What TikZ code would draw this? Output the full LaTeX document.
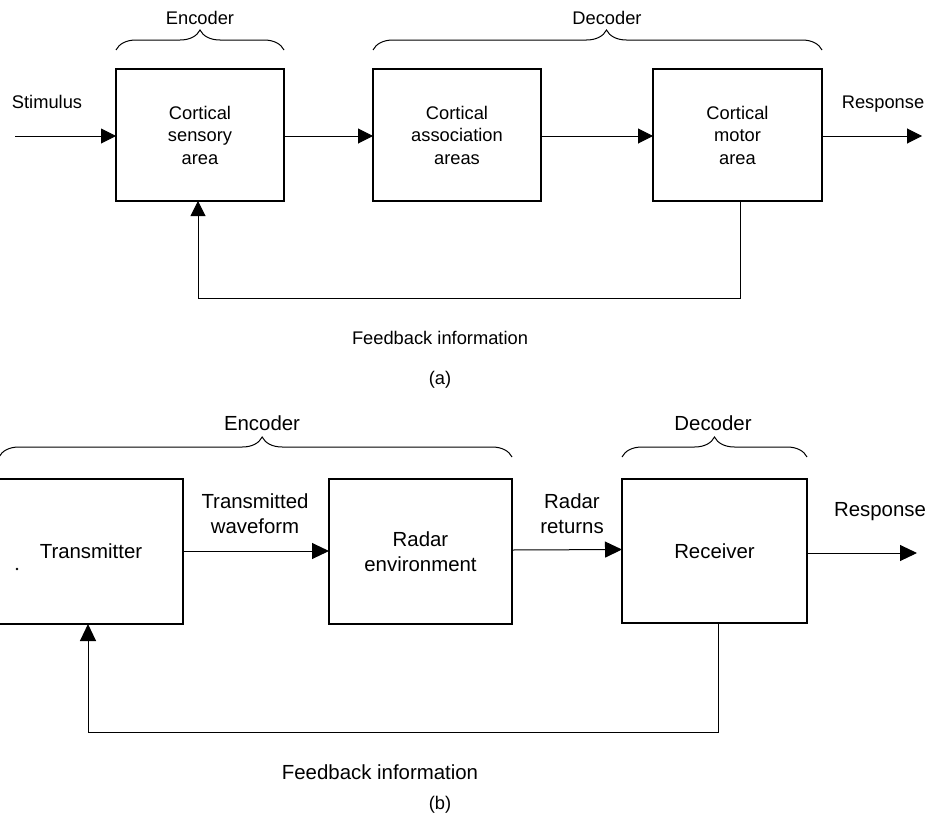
\documentclass[tikz,border=0pt]{standalone}
\usepackage{fontspec}
\setmainfont{Liberation Sans}
\usetikzlibrary{arrows.meta,decorations.pathreplacing}
\begin{document}
\begin{tikzpicture}[x=1pt,y=-1pt,
  every node/.style={inner sep=0pt,outer sep=0pt},
  blockA/.style={draw,line width=1.1pt,minimum height=132pt,align=center,
    font=\fontsize{18.3}{22.5}\selectfont},
  blockB/.style={draw,line width=1.1pt,minimum height=145pt,align=center,
    font=\fontsize{20.4}{25}\selectfont},
  lblA/.style={align=center,font=\fontsize{18.3}{22.5}\selectfont},
  lblB/.style={align=center,font=\fontsize{20.4}{25}\selectfont},
  flow/.style={line width=1pt,-{Triangle[length=15pt,width=15pt]}},
  flowB/.style={line width=1pt,-{Triangle[length=17pt,width=16pt]}},
  wire/.style={line width=1pt},
  bracket/.style={line width=1pt,decorate,
    decoration={brace,amplitude=20pt}}]
\useasboundingbox (0,0) rectangle (933,819);

% ---------- (a) cortical loop ----------
\node[blockA,minimum width=168pt] (sens) at (200,135) {Cortical\\sensory\\area};
\node[blockA,minimum width=168pt] (assoc) at (457,135) {Cortical\\association\\areas};
\node[blockA,minimum width=169pt] (motor) at (737.5,135) {Cortical\\motor\\area};

\coordinate (stimIn) at (15,136);
\coordinate (respA) at (922,136);
\coordinate (fbA1) at (740,298);
\coordinate (fbA2) at (198,298);

\draw[flow] (stimIn) -- (sens.west |- stimIn);
\draw[flow] (sens.east |- stimIn) -- (assoc.west |- stimIn);
\draw[flow] (assoc.east |- stimIn) -- (motor.west |- stimIn);
\draw[flow] (motor.east |- respA) -- (respA);
\draw[wire] (motor.south -| fbA1) -- (fbA1) -- (fbA2);
\draw[flow] (fbA2) -- (sens.south -| fbA2);

\node[lblA] (stimLbl) at (47,102) {Stimulus};
\node[lblA] (respLblA) at (883,104) {Response};
\node[lblA] (fbLblA) at (440,338) {Feedback information};
\node[lblA] (capA) at (440,380) {(a)};

\coordinate (encA1) at (116,50);
\coordinate (encA2) at (284,50);
\coordinate (decA1) at (373,50);
\coordinate (decA2) at (822,50);
\draw[bracket] (encA1) -- (encA2);
\draw[bracket,decoration={aspect=0.52}] (decA1) -- (decA2);
\node[lblA] (encLblA) at (200,18) {Encoder};
\node[lblA] (decLblA) at (607,18) {Decoder};

% ---------- (b) radar loop ----------
\node[blockB,minimum width=184pt] (tx) at (91,551.5) {Transmitter};
\node[blockB,minimum width=183pt] (env) at (420.5,551.5) {Radar\\environment};
\node[blockB,minimum width=185pt,minimum height=144pt] (rx) at (714.5,551) {Receiver};

\coordinate (respB) at (917,553);
\coordinate (fbB1) at (718,732);
\coordinate (fbB2) at (88,732);

\draw[flowB] ([yshift=0.5pt]tx.east) -- ([yshift=0.5pt]env.west);
\draw[flowB] ([yshift=1.5pt]env.east) -- ([yshift=1.5pt]rx.west);
\draw[flowB] (rx.east |- respB) -- (respB);
\draw[wire] (rx.south -| fbB1) -- (fbB1) -- (fbB2);
\draw[flowB] (fbB2) -- (tx.south -| fbB2);

\node[lblB] (wfLbl) at (255,514) {Transmitted\\waveform};
\node[lblB] (retLbl) at (572,514) {Radar\\returns};
\node[lblB] (respLblB) at (880,512) {Response};
\node[lblB] (fbLblB) at (380,772) {Feedback information};
\node[lblA] (capB) at (440,805) {(b)};

\coordinate (encB1) at (-1,457);
\coordinate (encB2) at (512,457);
\coordinate (decB1) at (622,457);
\coordinate (decB2) at (807,457);
\draw[bracket,decoration={aspect=0.513}] (encB1) -- (encB2);
\draw[bracket] (decB1) -- (decB2);
\node[lblB] (encLblB) at (262,423) {Encoder};
\node[lblB] (decLblB) at (713,423) {Decoder};

\fill (17,569) circle (1.4pt);
\end{tikzpicture}
\end{document}
